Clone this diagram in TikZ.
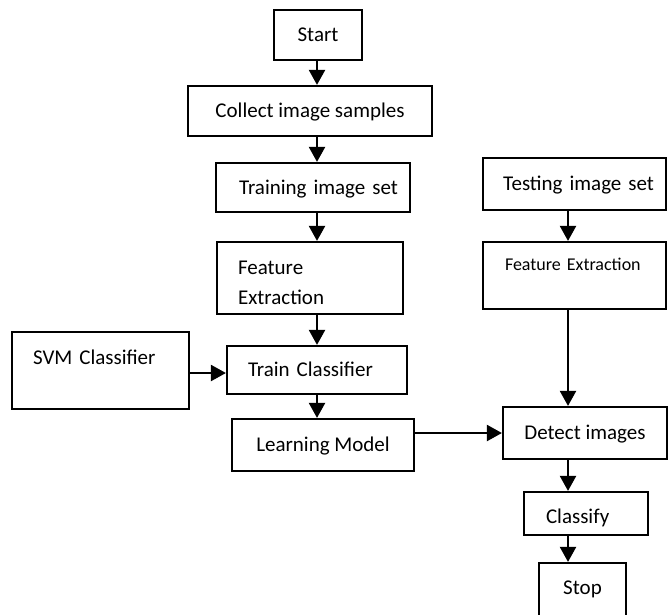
\documentclass[tikz,border=0pt]{standalone}
\usepackage{fontspec}
\setmainfont{Carlito}
\usetikzlibrary{arrows.meta}

\newcommand{\boxfont}{\fontsize{21}{30}\selectfont}
\newcommand{\smallboxfont}{\fontsize{18}{22}\selectfont}

\tikzset{
  stage/.style={draw, line width=2.2pt, inner sep=0pt, text height=13.5pt, text depth=0pt, font=\boxfont},
  flow/.style={line width=2.2pt, -{Triangle[width=16pt,length=15pt]}},
}

\begin{document}
\begin{tikzpicture}[x=1pt,y=-1pt]
  \useasboundingbox (0,0) rectangle (668,614);
  \clip (0,0) rectangle (668,614);
  \coordinate (lcol) at (317,0);
  \coordinate (rcol) at (568,0);

  % training side
  \node[stage, minimum width=88, minimum height=50] (start) at (318,35) {Start};
  \node[stage, minimum width=244, minimum height=50] (collect) at (310,111) {Collect image samples};
  \node[stage, minimum width=194, minimum height=49, text width=170, align=right] (trainset) at (313,187.5) {Training image set};
  \node[stage, minimum width=186, minimum height=72, text width=144, align=left, text height=22pt, text depth=30pt] (featL) at (310,278) {Feature\\Extraction};
  \node[stage, minimum width=177, minimum height=77, text width=135, align=left, text height=32.75pt, text depth=44.25pt] (svm) at (100.5,370.5) {SVM Classifier};
  \node[stage, minimum width=180, minimum height=48, text width=138, align=left] (train) at (317,370) {Train Classifier};
  \node[stage, minimum width=182, minimum height=52] (model) at (323,445) {Learning Model};

  % testing side
  \node[stage, minimum width=183, minimum height=52, text width=159, align=right] (testset) at (574.5,184) {Testing image set};
  \node[stage, minimum width=183, minimum height=67, text width=139, align=left, font=\smallboxfont, text height=28.8pt, text depth=38.2pt] (featR) at (574.5,275.5) {Feature Extraction};
  \node[stage, minimum width=164, minimum height=52] (detect) at (585,433) {Detect images};
  \node[stage, minimum width=124, minimum height=43, text width=80, align=left, text height=20.5pt] (classify) at (586,513.5) {Classify};
  \node[stage, minimum width=87, minimum height=57, text depth=7pt] (stop) at (582.5,591.5) {Stop};

  \draw[flow] (start.south -| lcol) -- (collect.north -| lcol);
  \draw[flow] (collect.south -| lcol) -- (trainset.north -| lcol);
  \draw[flow] (trainset.south -| lcol) -- (featL.north -| lcol);
  \draw[flow] (featL.south -| lcol) -- (train.north -| lcol);
  \draw[flow] ([yshift=-2.5]svm.east) -- ([yshift=-2.5]svm.east -| train.west);
  \draw[flow] (train.south -| lcol) -- (model.north -| lcol);
  \draw[flow] (detect.west -| model.east) -- (detect.west);

  \draw[flow] (testset.south -| rcol) -- (featR.north -| rcol);
  \draw[flow] (featR.south -| rcol) -- (detect.north -| rcol);
  \draw[flow] (detect.south -| rcol) -- (classify.north -| rcol);
  \draw[flow] (classify.south -| rcol) -- (stop.north -| rcol);
\end{tikzpicture}
\end{document}
